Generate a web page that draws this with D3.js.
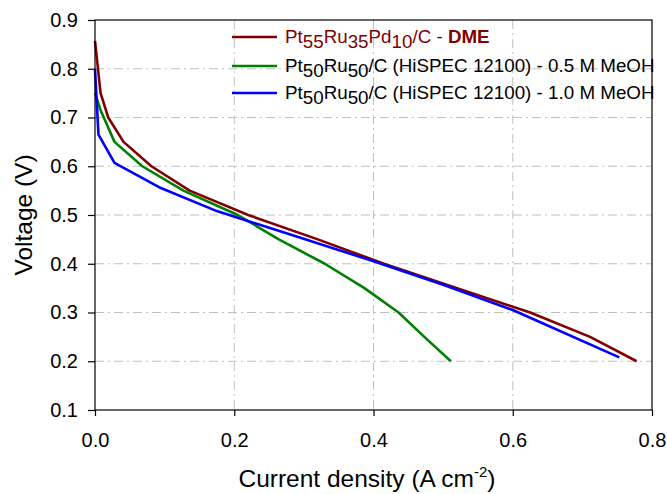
<!DOCTYPE html>
<html lang="en">
<head>
  <meta charset="UTF-8">
  <title>Polarization curves</title>
  <script src="https://d3js.org/d3.v7.min.js"></script>
  <style>
    body { margin: 0; background: #fff; }
    text { font-family: "Liberation Sans", Arial, sans-serif; }
  </style>
</head>
<body>
  <svg width="667" height="494"></svg>
  <script>
    // Data: current density (A cm-2) vs voltage (V)
    const dmeCurrent = [0, 0.008, 0.019, 0.041, 0.081, 0.136, 0.22, 0.32, 0.415, 0.52, 0.625, 0.711, 0.778];
    const dmeVoltage = [0.857, 0.75, 0.70, 0.65, 0.60, 0.55, 0.50, 0.45, 0.40, 0.35, 0.30, 0.25, 0.20];

    const meoh05Current = [0, 0.008, 0.028, 0.068, 0.127, 0.205, 0.264, 0.33, 0.387, 0.436, 0.473, 0.511];
    const meoh05Voltage = [0.75, 0.715, 0.65, 0.60, 0.55, 0.50, 0.45, 0.40, 0.35, 0.30, 0.25, 0.20];

    const meoh10Current = [0, 0.005, 0.028, 0.092, 0.175, 0.294, 0.40, 0.50, 0.60, 0.753];
    const meoh10Voltage = [0.80, 0.665, 0.607, 0.557, 0.508, 0.454, 0.405, 0.357, 0.305, 0.208];

    const xTicks = [0, 0.2, 0.4, 0.6, 0.8];
    const yTicks = [0.1, 0.2, 0.3, 0.4, 0.5, 0.6, 0.7, 0.8, 0.9];

    const series = [
      { x: dmeCurrent, y: dmeVoltage, color: "#800000" },
      { x: meoh05Current, y: meoh05Voltage, color: "#008000" },
      { x: meoh10Current, y: meoh10Voltage, color: "#0000ff" }
    ];

    const margin = { top: 20, right: 15, bottom: 84, left: 95 };
    const width = 667, height = 494;
    const svg = d3.select("svg");

    const x = d3.scaleLinear().domain([0, 0.8]).range([margin.left, width - margin.right]);
    const y = d3.scaleLinear().domain([0.1, 0.9]).range([height - margin.bottom, margin.top]);

    // grid lines (dash-dot grey)
    const grid = svg.append("g")
      .attr("stroke", "#c0c0c0")
      .attr("stroke-width", 1)
      .attr("stroke-dasharray", "9,4,2,4");
    grid.selectAll("line.h")
      .data(yTicks.slice(1, -1))
      .join("line")
      .attr("x1", x(0)).attr("x2", x(0.8))
      .attr("y1", d => y(d)).attr("y2", d => y(d));
    grid.selectAll("line.v")
      .data(xTicks.slice(1, -1))
      .join("line")
      .attr("class", "v")
      .attr("y1", y(0.9)).attr("y2", y(0.1))
      .attr("x1", d => x(d)).attr("x2", d => x(d));

    // curves
    const line = d3.line().x(d => x(d[0])).y(d => y(d[1]));
    svg.append("g")
      .selectAll("path")
      .data(series)
      .join("path")
      .attr("d", s => line(s.x.map((v, i) => [v, s.y[i]])))
      .attr("fill", "none")
      .attr("stroke", s => s.color)
      .attr("stroke-width", 2.6)
      .attr("stroke-linejoin", "round");

    // frame
    svg.append("rect")
      .attr("x", x(0)).attr("y", y(0.9))
      .attr("width", x(0.8) - x(0)).attr("height", y(0.1) - y(0.9))
      .attr("fill", "none").attr("stroke", "#000").attr("stroke-width", 1.2);

    // axes
    const xAxis = svg.append("g")
      .attr("transform", `translate(0,${y(0.1)})`)
      .call(d3.axisBottom(x).tickValues(xTicks).tickFormat(d3.format(".1f")).tickSize(6).tickPadding(17));
    const yAxis = svg.append("g")
      .attr("transform", `translate(${x(0)},0)`)
      .call(d3.axisLeft(y).tickValues(yTicks).tickFormat(d3.format(".1f")).tickSize(7).tickPadding(10));
    [xAxis, yAxis].forEach(a => {
      a.select(".domain").remove();
      a.selectAll("line").attr("stroke", "#000").attr("stroke-width", 1.2);
      a.selectAll("text").attr("font-size", 20).attr("fill", "#000")
        .attr("font-family", "'Liberation Sans', Arial, sans-serif");
    });

    // axis titles
    const xt = svg.append("text")
      .attr("x", 367).attr("y", 487)
      .attr("text-anchor", "middle").attr("font-size", 24.5);
    xt.append("tspan").text("Current density (A cm");
    xt.append("tspan").attr("font-size", 15).attr("dy", -10).text("-2");
    xt.append("tspan").attr("dy", 10).text(")");

    svg.append("text")
      .attr("transform", `translate(32,${(y(0.1) + y(0.9)) / 2}) rotate(-90)`)
      .attr("text-anchor", "middle").attr("font-size", 24.5)
      .text("Voltage (V)");

    // legend
    const legendItems = [
      { color: "#800000", parts: [["Pt"], ["55", "sub"], ["Ru"], ["35", "sub"], ["Pd"], ["10", "sub"], ["/C - "], ["DME", "bold"]] },
      { color: "#008000", textColor: "#000", parts: [["Pt"], ["50", "sub"], ["Ru"], ["50", "sub"], ["/C (HiSPEC 12100) - 0.5 M MeOH"]] },
      { color: "#0000ff", textColor: "#000", parts: [["Pt"], ["50", "sub"], ["Ru"], ["50", "sub"], ["/C (HiSPEC 12100) - 1.0 M MeOH"]] }
    ];
    const legendY = [37, 66, 93];
    const lg = svg.append("g");
    legendItems.forEach((item, i) => {
      const cy = legendY[i];
      lg.append("line")
        .attr("x1", 232).attr("x2", 277)
        .attr("y1", cy).attr("y2", cy)
        .attr("stroke", item.color).attr("stroke-width", 2.6);
      const t = lg.append("text")
        .attr("x", 285).attr("y", cy + 6)
        .attr("font-size", 18.8)
        .attr("fill", item.textColor || item.color);
      let shifted = false;
      item.parts.forEach(p => {
        const ts = t.append("tspan").text(p[0]);
        if (p[1] === "sub") {
          ts.attr("dy", shifted ? 0 : 5);
          shifted = true;
        } else if (shifted) {
          ts.attr("dy", -5);
          shifted = false;
        }
        if (p[1] === "bold") ts.attr("font-weight", "bold");
      });
    });
  </script>
</body>
</html>
